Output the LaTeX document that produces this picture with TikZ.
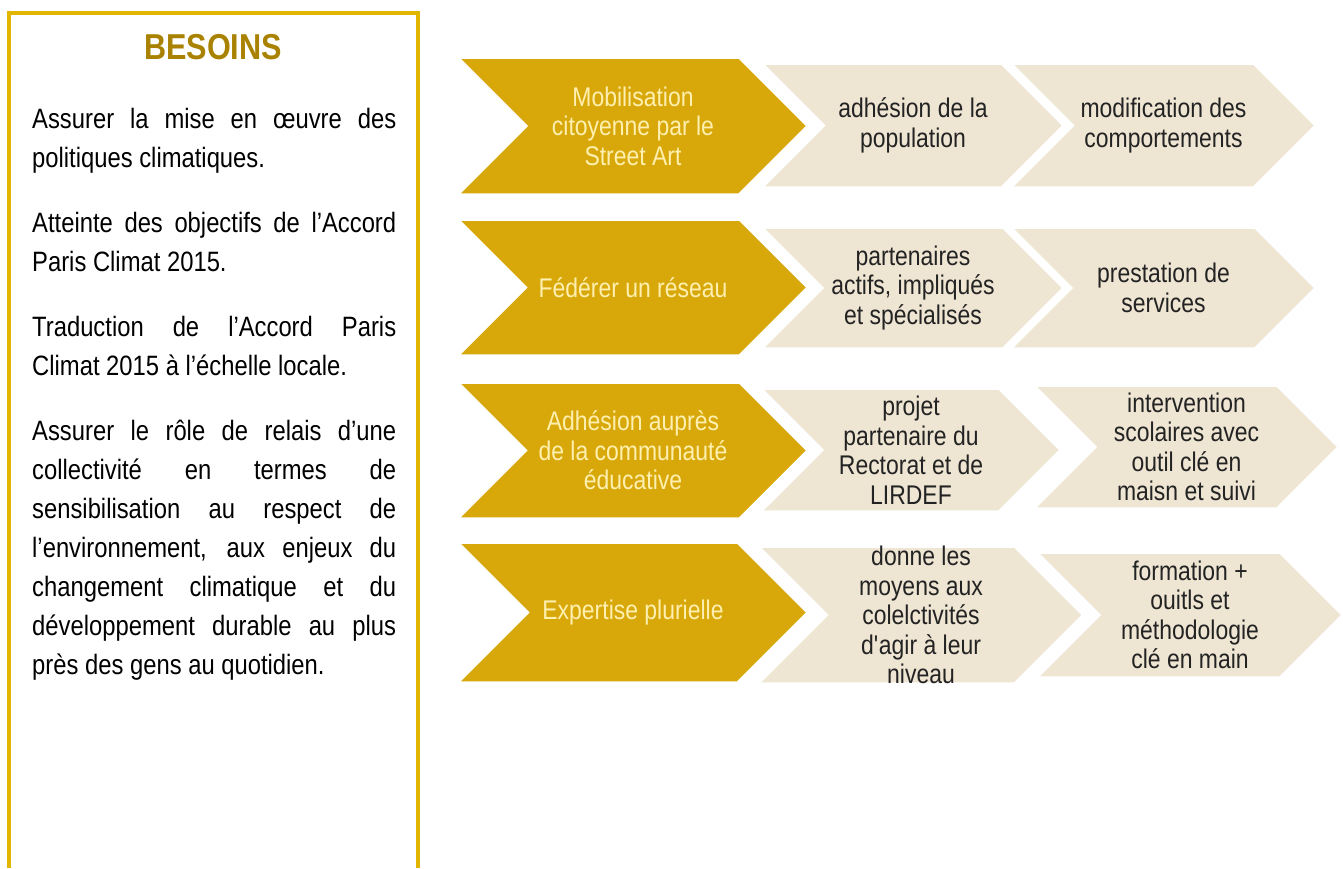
\documentclass[tikz,border=0pt]{standalone}
\usepackage{fontspec}
\setmainfont{Liberation Sans}[FakeStretch=0.85]
\usetikzlibrary{shapes.symbols}

\definecolor{boxgold}{RGB}{226,181,0}
\definecolor{titlegold}{RGB}{168,130,0}
\definecolor{arrowgold}{RGB}{216,168,10}
\definecolor{arrowtext}{RGB}{255,240,175}
\definecolor{sand}{RGB}{238,229,211}
\definecolor{sandink}{RGB}{35,35,35}

\tikzset{
    goldarrow/.style={signal, signal from=west, signal to=east, signal pointer angle=90,
        fill=arrowgold, draw=white, line width=1.5pt, inner sep=0pt},
    sandarrow/.style={goldarrow, fill=sand},
    goldtext/.style={text=arrowtext, align=center, inner sep=0pt, font=\fontsize{27}{29.5}\selectfont},
    sandtext/.style={goldtext, text=sandink},
}

\begin{document}
\begin{tikzpicture}[x=1pt,y=-1pt]
    \useasboundingbox (0,0) rectangle (1343,868);
    % needs box
    \draw[boxgold, line width=3.5pt] (9,868) -- (9,13) -- (418,13) -- (418,868);
    \node[anchor=base, text=titlegold, font=\fontsize{36}{40}\selectfont\bfseries] (title) at (213,59) {BESOINS};
    \node[anchor=base west, text width=364pt, align=justify, inner sep=0pt,
          font=\fontsize{28}{39}\selectfont] (needs) at (32,128) {%
        \setlength{\parskip}{26pt}\tolerance=10000 \hyphenpenalty=10000
        Assurer la mise en œuvre des\linebreak politiques climatiques.\par
        Atteinte des objectifs de l’Accord\linebreak Paris Climat 2015.\par
        Traduction de l’Accord Paris\linebreak Climat 2015 à l’échelle locale.\par
        Assurer le rôle de relais d’une\linebreak collectivité en termes de\linebreak
        sensibilisation au respect de\linebreak l’environnement, aux enjeux du\linebreak
        changement climatique et du\linebreak développement durable au plus\linebreak
        près des gens au quotidien.};

    % row 1
    \node[goldarrow, minimum width=348pt, minimum height=136pt] (mob) at (633,126) {};
    \node[sandarrow, minimum width=300pt, minimum height=123pt] (adhpop) at (913,125.5) {};
    \node[sandarrow, minimum width=303pt, minimum height=123pt] (modif) at (1163.5,125.5) {};
    \node[goldtext] (mobtxt) at (mob) {Mobilisation\\citoyenne par le\\Street Art};
    \node[sandtext] (adhpoptxt) at (adhpop) {adhésion de la\\population};
    \node[sandtext] (modiftxt) at (modif) {modification des\\comportements};

    % row 2
    \node[goldarrow, minimum width=348pt, minimum height=135pt] (federer) at (633,287.5) {};
    \node[sandarrow, minimum width=300pt, minimum height=120pt] (partenaires) at (913,288) {};
    \node[sandarrow, minimum width=303pt, minimum height=120pt] (prestation) at (1163.5,288) {};
    \node[goldtext] (federertxt) at (federer) {Fédérer un réseau};
    \node[sandtext] (partenairestxt) at (partenaires) {partenaires\\actifs, impliqués\\et spécialisés};
    \node[sandtext] (prestationtxt) at (prestation) {prestation de\\services};

    % row 3
    \node[goldarrow, minimum width=348pt, minimum height=135pt] (adhesion) at (633,450.5) {};
    \node[sandarrow, minimum width=298pt, minimum height=122pt] (projet) at (911,450) {};
    \node[sandarrow, minimum width=303pt, minimum height=122pt] (intervention) at (1186.5,447) {};
    \node[goldtext] (adhesiontxt) at (adhesion) {Adhésion auprès\\de la communauté\\éducative};
    \node[sandtext] (projettxt) at (projet) {projet\\partenaire du\\Rectorat et de\\LIRDEF};
    \node[sandtext] (interventiontxt) at (intervention) {intervention\\scolaires avec\\outil clé en\\maisn et suivi};

    % row 4
    \node[goldarrow, minimum width=348pt, minimum height=139pt] (expertise) at (633,612.5) {};
    \node[sandarrow, minimum width=323pt, minimum height=136pt] (moyens) at (921,615) {};
    \node[sandarrow, minimum width=304pt, minimum height=124pt] (formation) at (1190,615) {};
    \node[goldtext] (expertisetxt) at (expertise) {Expertise plurielle};
    \node[sandtext] (moyenstxt) at (moyens) {donne les\\moyens aux\\colelctivités\\d\textquotesingle agir à leur\\niveau};
    \node[sandtext] (formationtxt) at (formation) {formation +\\ouitls et\\méthodologie\\clé en main};
\end{tikzpicture}
\end{document}
